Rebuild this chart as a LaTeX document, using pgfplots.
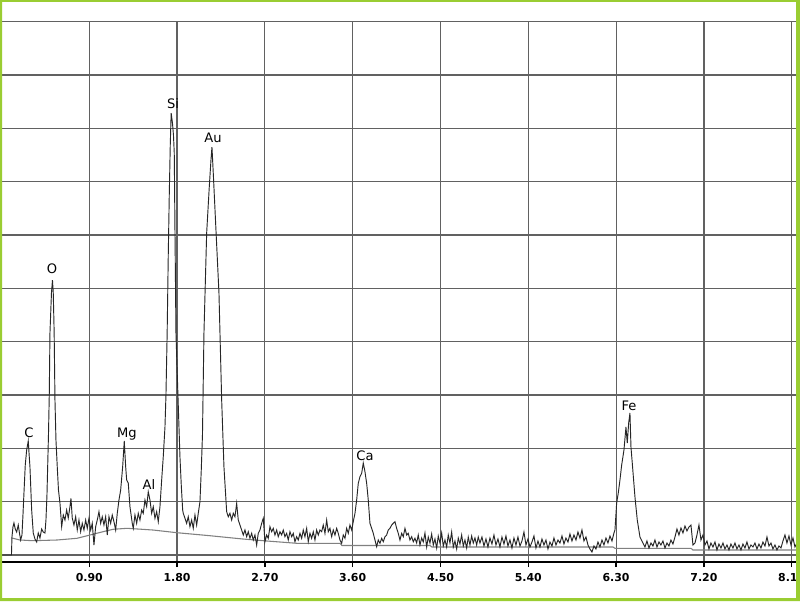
\documentclass[border=0pt]{standalone}
\usepackage{pgfplots}
\pgfplotsset{compat=1.18}
\usepackage{fontspec}
\setmainfont{DejaVu Sans}
\definecolor{framegreen}{HTML}{9ACD32}
\begin{document}
\begin{tikzpicture}[x=0.75pt,y=0.75pt]
\useasboundingbox (0,0) rectangle (800,601);
\fill[white] (0,0) rectangle (800,601);
\begin{axis}[
  at={(1.5,39)}, anchor=south west,
  scale only axis, width=596.7pt, height=405.2pt,
  xmin=0, xmax=8.155, ymin=-7, ymax=533.33,
  axis x line*=bottom, axis y line*=left,
  y axis line style={draw=none},
  x axis line style={black, line width=1pt},
  xtick={0.9,1.8,2.7,3.6,4.5,5.4,6.3,7.2,8.1},
  xticklabels={0.90,1.80,2.70,3.60,4.50,5.40,6.30,7.20,8.10},
  extra x ticks={0}, extra x tick labels={}, extra x tick style={major tick length=0pt},
  ytick={0,53.33,106.67,160,213.33,266.67,320,373.33,426.67,480,533.33},
  yticklabels={}, ytick style={draw=none},
  tick align=outside, major tick length=3.75pt,
  xtick style={black, line width=1pt},
  grid=major, grid style={black!62, line width=0.9pt},
  xticklabel style={font=\fontsize{8.2}{9}\selectfont\bfseries, yshift=-1.5pt},
  clip=false,
]
% background fit
\addplot[black!50, line width=0.8pt] coordinates {
(0.1076,17) (0.1896,15) (0.3229,14.3) (0.5689,15) (0.7739,16.7) (0.9071,20) (1.0404,23.3) (1.1429,25.7) (1.2864,26.7) (1.5529,25) (1.7989,22.3) (2.1371,19.3) (2.4754,16) (2.7214,14) (3.0289,11.7) (3.4696,11.7) (3.4901,9.5) (4.3921,9.5) (4.4126,8) (6.2679,8) (6.2884,6.7) (7.0674,6.7) (7.0879,5) (8.1539,5)
};
% spectrum
\addplot[black!85, line width=0.7pt] coordinates {
(0,0) (0.1025,0) (0.1076,18) (0.1179,28) (0.1281,32) (0.1415,26) (0.1558,23) (0.1722,30) (0.1845,22) (0.1968,15) (0.2101,20) (0.2204,40) (0.2306,62) (0.2440,90) (0.2583,105) (0.2747,114) (0.2839,100) (0.2921,88) (0.3096,45) (0.3260,22) (0.3434,16) (0.3608,13) (0.3772,22) (0.3946,17) (0.4121,26) (0.4285,23) (0.4459,22) (0.4561,35) (0.4664,60) (0.4818,120) (0.4900,160) (0.4971,222) (0.5125,262) (0.5228,275) (0.5310,262) (0.5402,222) (0.5484,155) (0.5586,115) (0.5720,88) (0.5843,65) (0.5996,52)
(0.6171,28.3) (0.6335,40) (0.6509,35) (0.6683,45) (0.6847,37) (0.7021,48.3) (0.7124,56.7) (0.7257,37) (0.7431,30) (0.7606,38.3) (0.7770,25) (0.7944,35) (0.8118,23.3) (0.8282,31.7) (0.8456,25) (0.8631,35) (0.8795,26.7) (0.8969,36.7) (0.9143,25) (0.9307,31.7) (0.9481,10) (0.9656,28.3) (0.9820,35) (0.9994,43.3) (1.0168,31.7) (1.0332,38.3) (1.0506,30) (1.0681,38.3) (1.0845,20) (1.1019,38.3) (1.1193,31.7) (1.1357,40) (1.1531,33.3) (1.1706,25) (1.1870,41.7) (1.2044,55) (1.2218,65) (1.2423,88.3) (1.2587,114) (1.2731,88.3) (1.2833,75) (1.2997,72) (1.3171,48.3) (1.3407,31.7) (1.3510,26.7) (1.3684,40) (1.3858,31.7) (1.4022,41.7) (1.4196,35) (1.4371,45) (1.4535,41.7) (1.4709,55) (1.4883,48.3) (1.5047,63.3) (1.5221,55) (1.5396,41.7) (1.5560,48.3) (1.5734,36.7) (1.5908,43.3) (1.6072,33.3) (1.6246,48.3) (1.6421,75) (1.6585,98.3) (1.6759,128)
(1.6861,160) (1.6984,222) (1.7097,300) (1.7200,360) (1.7302,410) (1.7394,442) (1.7528,432) (1.7630,420) (1.7712,402) (1.7784,325) (1.7886,222) (1.7989,190) (1.8122,150) (1.8296,98) (1.8430,70) (1.8573,45)
(1.8635,41.7) (1.8809,36.7) (1.8983,31.7) (1.9147,38.3) (1.9321,28.3) (1.9496,35) (1.9660,26.7) (1.9834,40) (2.0008,30) (2.0172,41.7) (2.0346,53.3)
(2.0480,85) (2.0603,120) (2.0756,222) (2.1033,322) (2.1300,368) (2.1474,395) (2.1576,408) (2.1710,382) (2.1986,325) (2.2294,262) (2.2571,155) (2.2806,88) (2.3083,43.3)
(2.3247,38.3) (2.3421,41.7) (2.3596,35) (2.3760,41.7) (2.3934,38.3) (2.4108,51.7) (2.4272,35) (2.4446,30) (2.4621,25) (2.4785,20) (2.4959,25) (2.5133,18.3) (2.5297,23.3) (2.5471,16.7) (2.5646,21.7) (2.5810,15) (2.5984,20) (2.6158,10) (2.6322,21.7) (2.6496,25) (2.6671,31.7) (2.6835,36.7) (2.7009,13.3) (2.7183,20) (2.7347,16.7) (2.7521,28.3) (2.7696,23.3) (2.7860,26.7) (2.8034,20) (2.8208,25) (2.8372,18.3) (2.8546,23.3) (2.8721,20) (2.8885,25) (2.9059,18.3) (2.9233,21.7) (2.9397,15) (2.9571,23.3) (2.9746,18.3) (2.9910,21.7) (3.0084,13.3) (3.0258,18.3) (3.0422,15) (3.0596,21.7) (3.0771,16.7) (3.0935,25) (3.1109,18.3) (3.1283,26.7) (3.1447,13.3) (3.1621,21.7) (3.1796,16.7) (3.1960,23.3) (3.2134,15) (3.2308,25) (3.2472,20) (3.2646,25)
(3.2821,23.3) (3.2985,30) (3.3159,21.7) (3.3333,35) (3.3497,23.3) (3.3671,26.7) (3.3846,18.3) (3.4010,25) (3.4184,20) (3.4358,26.7) (3.4522,21.7) (3.4696,15) (3.4871,11.7) (3.5035,20) (3.5209,16.7) (3.5383,26.7) (3.5547,21.7) (3.5721,30) (3.5896,25) (3.6060,33.3) (3.6234,41.7) (3.6408,55) (3.6572,71.7) (3.6746,78.3) (3.6921,81.7) (3.7085,92) (3.7259,83.3) (3.7433,71.7) (3.7597,55) (3.7771,31.7) (3.7946,26.7) (3.8110,21.7) (3.8284,15) (3.8458,8.3) (3.8622,15) (3.8796,11.7) (3.8971,16.7) (3.9135,13.3) (3.9309,18.3) (3.9483,20) (3.9647,25) (3.9821,26.7) (3.9996,30) (4.0160,31.7) (4.0334,33.3) (4.0508,26.7) (4.0672,21.7) (4.0846,15) (4.1021,21.7) (4.1185,18.3) (4.1359,26.7) (4.1533,20) (4.1697,21.7) (4.1871,15) (4.2046,18.3) (4.2210,13.3) (4.2384,16.7)
(4.2558,12) (4.2722,20) (4.2896,10) (4.3071,17) (4.3235,13) (4.3409,22) (4.3583,8) (4.3747,18) (4.3921,12) (4.4096,21) (4.4260,10) (4.4434,16) (4.4608,7) (4.4772,19) (4.4946,12) (4.5121,22) (4.5285,9) (4.5459,15) (4.5633,8) (4.5797,20) (4.5971,12) (4.6146,23) (4.6310,8) (4.6484,14) (4.6658,6) (4.6822,17) (4.6996,11) (4.7171,20) (4.7335,9) (4.7509,15) (4.7683,7) (4.7847,18) (4.8021,10) (4.8196,19) (4.8360,12) (4.8534,17) (4.8708,10) (4.8872,18) (4.9046,12)
(4.9251,18) (4.9456,9) (4.9661,16) (4.9866,8) (5.0071,17) (5.0276,11) (5.0481,20) (5.0686,10) (5.0891,16) (5.1096,8) (5.1301,18) (5.1506,11) (5.1711,19) (5.1916,9) (5.2121,15) (5.2326,7) (5.2531,17) (5.2736,10) (5.2941,18) (5.3146,9) (5.3351,14) (5.3556,23) (5.3761,10) (5.3966,16) (5.4171,8) (5.4376,13) (5.4581,19) (5.4786,7) (5.4991,14) (5.5196,8) (5.5401,16) (5.5606,10) (5.5811,15) (5.6016,6) (5.6221,13) (5.6426,9) (5.6631,17) (5.6836,10) (5.7041,15) (5.7246,12) (5.7451,19) (5.7656,11) (5.7861,17) (5.8066,13) (5.8271,21) (5.8476,14) (5.8681,20) (5.8886,15) (5.9091,23) (5.9296,17) (5.9501,25) (5.9706,14) (5.9911,18) (6.0116,10) (6.0321,6) (6.0526,3) (6.0731,9) (6.0936,6) (6.1141,13) (6.1346,8) (6.1551,15) (6.1756,10) (6.1961,17) (6.2166,12) (6.2371,19) (6.2576,14) (6.2781,22) (6.2884,25)
(6.3058,52) (6.3222,62) (6.3396,75) (6.3571,90) (6.3806,105) (6.4011,128) (6.4145,112) (6.4288,132) (6.4421,142) (6.4524,108) (6.4657,92) (6.4934,58) (6.5170,35) (6.5446,18) (6.5754,12)
(6.5959,8) (6.6164,14) (6.6369,7) (6.6574,12) (6.6779,9) (6.6984,15) (6.7189,8) (6.7394,13) (6.7599,10) (6.7804,14) (6.8009,7) (6.8214,12) (6.8419,9) (6.8624,15) (6.8829,11) (6.9034,18) (6.9239,26) (6.9444,20) (6.9649,27) (6.9854,22) (7.0059,29) (7.0264,24) (7.0469,28) (7.0674,30) (7.0879,10) (7.1084,12) (7.1289,20) (7.1494,30) (7.1699,15) (7.1904,20) (7.2109,10) (7.2314,14) (7.2519,6) (7.2724,12) (7.2929,8) (7.3134,13) (7.3339,5) (7.3544,11) (7.3749,7) (7.3954,12) (7.4159,6) (7.4364,10) (7.4569,5) (7.4774,11) (7.4979,7) (7.5184,12) (7.5389,6) (7.5594,10) (7.5799,5) (7.6004,11) (7.6209,7) (7.6414,13) (7.6619,6) (7.6824,10) (7.7029,8) (7.7234,12) (7.7439,6) (7.7644,11) (7.7849,7) (7.8054,13) (7.8259,9) (7.8464,18) (7.8669,9) (7.8874,12) (7.9079,6) (7.9284,10) (7.9489,5) (7.9694,9) (7.9899,7) (8.0104,14) (8.0309,20) (8.0514,12) (8.0719,19) (8.0924,10) (8.1129,17) (8.1334,8) (8.1539,12)
};
\begin{scope}[every node/.style={anchor=base, inner sep=0pt, font=\fontsize{9.8}{11}\selectfont}]
\node at (axis cs:1.7579,447) {Si};
\node at (axis cs:2.1679,413) {Au};
\node at (axis cs:0.5176,282) {O};
\node at (axis cs:0.2819,118) {C};
\node at (axis cs:1.2864,118) {Mg};
\node at (axis cs:1.5119,66) {Al};
\node at (axis cs:3.7259,95) {Ca};
\node at (axis cs:6.4319,145) {Fe};
\end{scope}
\end{axis}
\fill[framegreen, even odd rule] (0,0) rectangle (800,601) (2,3) rectangle (796,599);
\end{tikzpicture}
\end{document}
